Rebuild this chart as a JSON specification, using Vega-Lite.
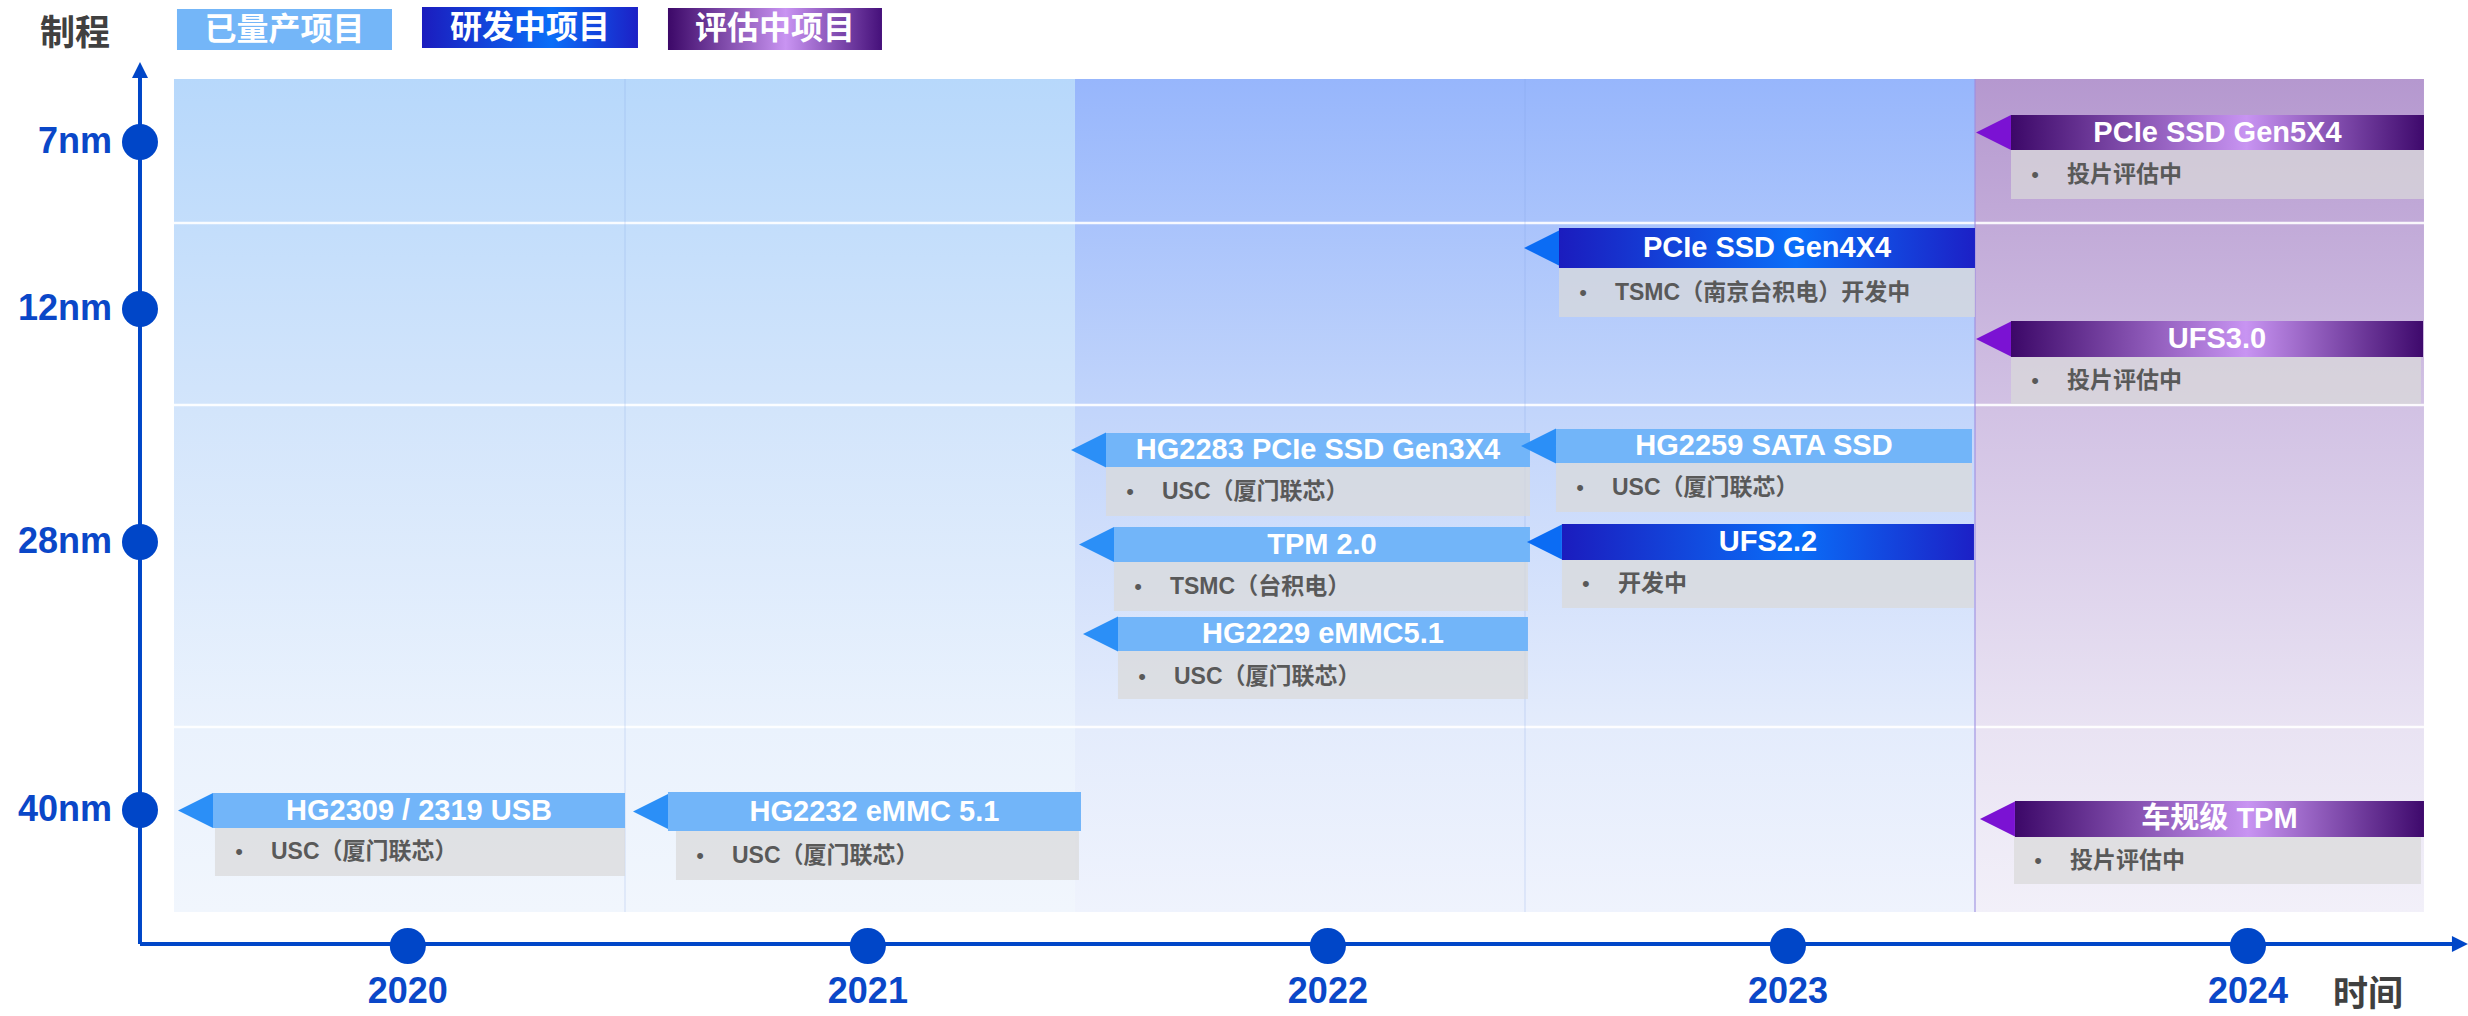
{
  "$schema": "https://vega.github.io/schema/vega-lite/v6.json",
  "width": 2468,
  "height": 1016,
  "autosize": {"type": "none"},
  "padding": 0,
  "background": "white",
  "config": {"view": {"stroke": null}},
  "datasets": {
    "bands": [
      {"group": "2020-2021", "x1": 2019.4917, "x2": 2021.4502},
      {"group": "2022-2023", "x1": 2021.4502, "x2": 2023.4066},
      {"group": "2024", "x1": 2023.4066, "x2": 2024.3826}
    ],
    "hlines": [{"y": 2.23}, {"y": 4.05}, {"y": 7.27}],
    "vlines": [{"x": 2020.4721, "kind": "thin"}, {"x": 2022.4284, "kind": "thin"}, {"x": 2023.4066, "kind": "edge"}],
    "projects": [
      {"name": "HG2309 / 2319 USB", "status": "已量产", "node": "40nm", "x1": 2019.5765, "x2": 2020.4721, "sx1": 2019.5808, "sx2": 2020.4721, "xm": 2020.0243, "y1": 7.93, "y2": 8.28, "y3": 8.76, "ym": 8.105, "ys": 8.52, "note": "USC（厦门联芯）"},
      {"name": "HG2232 eMMC 5.1", "status": "已量产", "node": "40nm", "x1": 2020.5655, "x2": 2021.4633, "sx1": 2020.5829, "sx2": 2021.4589, "xm": 2021.0144, "y1": 7.92, "y2": 8.31, "y3": 8.80, "ym": 8.115, "ys": 8.555, "note": "USC（厦门联芯）"},
      {"name": "HG2283 PCIe SSD Gen3X4", "status": "已量产", "node": "28nm", "x1": 2021.5176, "x2": 2022.4393, "sx1": 2021.5176, "sx2": 2022.4393, "xm": 2021.9785, "y1": 4.33, "y2": 4.67, "y3": 5.16, "ym": 4.50, "ys": 4.915, "note": "USC（厦门联芯）"},
      {"name": "TPM 2.0", "status": "已量产", "node": "28nm", "x1": 2021.5350, "x2": 2022.4393, "sx1": 2021.5350, "sx2": 2022.4349, "xm": 2021.9871, "y1": 5.27, "y2": 5.62, "y3": 6.11, "ym": 5.445, "ys": 5.865, "note": "TSMC（台积电）"},
      {"name": "HG2229 eMMC5.1", "status": "已量产", "node": "28nm", "x1": 2021.5437, "x2": 2022.4349, "sx1": 2021.5437, "sx2": 2022.4349, "xm": 2021.9893, "y1": 6.17, "y2": 6.51, "y3": 6.99, "ym": 6.34, "ys": 6.77, "note": "USC（厦门联芯）"},
      {"name": "HG2259 SATA SSD", "status": "已量产", "node": "28nm", "x1": 2022.4958, "x2": 2023.4001, "sx1": 2022.4958, "sx2": 2023.4001, "xm": 2022.9479, "y1": 4.29, "y2": 4.63, "y3": 5.12, "ym": 4.46, "ys": 4.875, "note": "USC（厦门联芯）"},
      {"name": "UFS2.2", "status": "研发中", "node": "28nm", "x1": 2022.5088, "x2": 2023.4044, "sx1": 2022.5088, "sx2": 2023.4044, "xm": 2022.9566, "y1": 5.24, "y2": 5.60, "y3": 6.08, "ym": 5.42, "ys": 5.84, "note": "开发中"},
      {"name": "PCIe SSD Gen4X4", "status": "研发中", "node": "12nm", "x1": 2022.5023, "x2": 2023.4066, "sx1": 2022.5023, "sx2": 2023.4066, "xm": 2022.9545, "y1": 2.28, "y2": 2.68, "y3": 3.17, "ym": 2.48, "ys": 2.925, "note": "TSMC（南京台积电）开发中"},
      {"name": "UFS3.0", "status": "评估中", "node": "12nm", "x1": 2023.4849, "x2": 2024.3805, "sx1": 2023.4849, "sx2": 2024.3761, "xm": 2023.9326, "y1": 3.21, "y2": 3.57, "y3": 4.04, "ym": 3.39, "ys": 3.805, "note": "投片评估中"},
      {"name": "PCIe SSD Gen5X4", "status": "评估中", "node": "7nm", "x1": 2023.4849, "x2": 2024.3826, "sx1": 2023.4849, "sx2": 2024.3826, "xm": 2023.9337, "y1": 1.15, "y2": 1.50, "y3": 1.99, "ym": 1.325, "ys": 1.745, "note": "投片评估中"},
      {"name": "车规级 TPM", "status": "评估中", "node": "40nm", "x1": 2023.4935, "x2": 2024.3826, "sx1": 2023.4914, "sx2": 2024.3761, "xm": 2023.9381, "y1": 8.01, "y2": 8.37, "y3": 8.84, "ym": 8.19, "ys": 8.605, "note": "投片评估中"}
    ],
    "axes": [
      {"axis": "制程", "x": 2019.4178, "x2": 2019.4178, "y": 9.44, "y2": 0.70, "lx": 2019.2765, "ly": 0.34},
      {"axis": "时间", "x": 2019.4178, "x2": 2024.4608, "y": 9.44, "y2": 9.44, "lx": 2024.2608, "ly": 9.95}
    ],
    "nodes": [
      {"node": "7nm", "y": 1.42},
      {"node": "12nm", "y": 3.09},
      {"node": "28nm", "y": 5.42},
      {"node": "40nm", "y": 8.10}
    ],
    "years": [{"year": 2020}, {"year": 2021}, {"year": 2022}, {"year": 2023}, {"year": 2024}],
    "legend": [
      {"status": "已量产", "label": "已量产项目", "x1": 2019.4982, "x2": 2019.9656, "y1": 0.09, "y2": 0.50, "xm": 2019.7319, "ym": 0.295},
      {"status": "研发中", "label": "研发中项目", "x1": 2020.0308, "x2": 2020.5003, "y1": 0.07, "y2": 0.48, "xm": 2020.2656, "ym": 0.275},
      {"status": "评估中", "label": "评估中项目", "x1": 2020.5655, "x2": 2021.0307, "y1": 0.08, "y2": 0.50, "xm": 2020.7981, "ym": 0.29}
    ]
  },
  "layer": [
    {
      "data": {"name": "bands"},
      "transform": [{"filter": "datum.group === '2020-2021'"}],
      "mark": {"type": "rect", "fill": {"gradient": "linear", "x1": 0, "y1": 0, "x2": 0, "y2": 1, "stops": [{"offset": 0, "color": "#b7d8fb"}, {"offset": 0.4, "color": "#d3e5fb"}, {"offset": 0.78, "color": "#eaf2fd"}, {"offset": 1, "color": "#f1f6fd"}]}},
      "encoding": {
        "x": {"field": "x1", "type": "quantitative", "scale": {"domain": [2019.1135, 2024.4783], "nice": false, "zero": false}, "axis": null},
        "x2": {"field": "x2"},
        "y": {"datum": 0.79, "type": "quantitative", "scale": {"domain": [0, 10.16], "reverse": true, "nice": false, "zero": false}, "axis": null},
        "y2": {"datum": 9.12}
      }
    },
    {
      "data": {"name": "bands"},
      "transform": [{"filter": "datum.group === '2022-2023'"}],
      "mark": {"type": "rect", "fill": {"gradient": "linear", "x1": 0, "y1": 0, "x2": 0, "y2": 1, "stops": [{"offset": 0, "color": "#97b6fc"}, {"offset": 0.4, "color": "#c2d5fb"}, {"offset": 0.78, "color": "#e4ecfc"}, {"offset": 1, "color": "#eff3fd"}]}},
      "encoding": {
        "x": {"field": "x1", "type": "quantitative", "scale": {"domain": [2019.1135, 2024.4783], "nice": false, "zero": false}, "axis": null},
        "x2": {"field": "x2"},
        "y": {"datum": 0.79, "type": "quantitative", "scale": {"domain": [0, 10.16], "reverse": true, "nice": false, "zero": false}, "axis": null},
        "y2": {"datum": 9.12}
      }
    },
    {
      "data": {"name": "bands"},
      "transform": [{"filter": "datum.group === '2024'"}],
      "mark": {"type": "rect", "fill": {"gradient": "linear", "x1": 0, "y1": 0, "x2": 0, "y2": 1, "stops": [{"offset": 0, "color": "#b598cf"}, {"offset": 0.4, "color": "#d2c2e4"}, {"offset": 0.78, "color": "#e9e3f3"}, {"offset": 1, "color": "#f2f0f9"}]}},
      "encoding": {
        "x": {"field": "x1", "type": "quantitative", "scale": {"domain": [2019.1135, 2024.4783], "nice": false, "zero": false}, "axis": null},
        "x2": {"field": "x2"},
        "y": {"datum": 0.79, "type": "quantitative", "scale": {"domain": [0, 10.16], "reverse": true, "nice": false, "zero": false}, "axis": null},
        "y2": {"datum": 9.12}
      }
    },
    {
      "data": {"name": "hlines"},
      "mark": {"type": "rule", "color": "#ffffff", "strokeWidth": 2.5, "opacity": 0.9},
      "encoding": {
        "x": {"datum": 2019.4917, "type": "quantitative", "scale": {"domain": [2019.1135, 2024.4783], "nice": false, "zero": false}, "axis": null},
        "x2": {"datum": 2024.3826},
        "y": {"field": "y", "type": "quantitative", "scale": {"domain": [0, 10.16], "reverse": true, "nice": false, "zero": false}, "axis": null}
      }
    },
    {
      "data": {"name": "vlines"},
      "transform": [{"filter": "datum.kind === 'thin'"}],
      "mark": {"type": "rule", "color": "#7f9fe0", "strokeWidth": 1, "opacity": 0.3},
      "encoding": {
        "x": {"field": "x", "type": "quantitative", "scale": {"domain": [2019.1135, 2024.4783], "nice": false, "zero": false}, "axis": null},
        "y": {"datum": 0.79, "type": "quantitative", "scale": {"domain": [0, 10.16], "reverse": true, "nice": false, "zero": false}, "axis": null},
        "y2": {"datum": 9.12}
      }
    },
    {
      "data": {"name": "vlines"},
      "transform": [{"filter": "datum.kind === 'edge'"}],
      "mark": {"type": "rule", "color": "#9a8ce0", "strokeWidth": 2, "opacity": 0.55},
      "encoding": {
        "x": {"field": "x", "type": "quantitative", "scale": {"domain": [2019.1135, 2024.4783], "nice": false, "zero": false}, "axis": null},
        "y": {"datum": 0.79, "type": "quantitative", "scale": {"domain": [0, 10.16], "reverse": true, "nice": false, "zero": false}, "axis": null},
        "y2": {"datum": 9.12}
      }
    },
    {
      "data": {"name": "projects"},
      "mark": {"type": "rect", "fill": "#d9d9d9", "opacity": 0.72},
      "encoding": {
        "x": {"field": "sx1", "type": "quantitative", "scale": {"domain": [2019.1135, 2024.4783], "nice": false, "zero": false}, "axis": null},
        "x2": {"field": "sx2"},
        "y": {"field": "y2", "type": "quantitative", "scale": {"domain": [0, 10.16], "reverse": true, "nice": false, "zero": false}, "axis": null},
        "y2": {"field": "y3"}
      }
    },
    {
      "data": {"name": "projects"},
      "transform": [{"filter": "datum.status === '已量产'"}],
      "mark": {"type": "rect", "fill": "#72b5f9"},
      "encoding": {
        "x": {"field": "x1", "type": "quantitative", "scale": {"domain": [2019.1135, 2024.4783], "nice": false, "zero": false}, "axis": null},
        "x2": {"field": "x2"},
        "y": {"field": "y1", "type": "quantitative", "scale": {"domain": [0, 10.16], "reverse": true, "nice": false, "zero": false}, "axis": null},
        "y2": {"field": "y2"}
      }
    },
    {
      "data": {"name": "projects"},
      "transform": [{"filter": "datum.status === '研发中'"}],
      "mark": {"type": "rect", "fill": {"gradient": "linear", "x1": 0, "y1": 0, "x2": 1, "y2": 0, "stops": [{"offset": 0, "color": "#1b1cbe"}, {"offset": 0.57, "color": "#0a6ef8"}, {"offset": 1, "color": "#1c20c6"}]}},
      "encoding": {
        "x": {"field": "x1", "type": "quantitative", "scale": {"domain": [2019.1135, 2024.4783], "nice": false, "zero": false}, "axis": null},
        "x2": {"field": "x2"},
        "y": {"field": "y1", "type": "quantitative", "scale": {"domain": [0, 10.16], "reverse": true, "nice": false, "zero": false}, "axis": null},
        "y2": {"field": "y2"}
      }
    },
    {
      "data": {"name": "projects"},
      "transform": [{"filter": "datum.status === '评估中'"}],
      "mark": {"type": "rect", "fill": {"gradient": "linear", "x1": 0, "y1": 0, "x2": 1, "y2": 0, "stops": [{"offset": 0, "color": "#3c0868"}, {"offset": 0.57, "color": "#c894f2"}, {"offset": 1, "color": "#3e096c"}]}},
      "encoding": {
        "x": {"field": "x1", "type": "quantitative", "scale": {"domain": [2019.1135, 2024.4783], "nice": false, "zero": false}, "axis": null},
        "x2": {"field": "x2"},
        "y": {"field": "y1", "type": "quantitative", "scale": {"domain": [0, 10.16], "reverse": true, "nice": false, "zero": false}, "axis": null},
        "y2": {"field": "y2"}
      }
    },
    {
      "data": {"name": "projects"},
      "mark": {"type": "point", "filled": true, "opacity": 1, "strokeWidth": 0, "shape": "M -1 0 L 1 -1 L 1 1 Z", "size": 1225, "xOffset": -17.5},
      "encoding": {
        "x": {"field": "x1", "type": "quantitative", "scale": {"domain": [2019.1135, 2024.4783], "nice": false, "zero": false}, "axis": null},
        "y": {"field": "ym", "type": "quantitative", "scale": {"domain": [0, 10.16], "reverse": true, "nice": false, "zero": false}, "axis": null},
        "color": {"field": "status", "type": "nominal", "scale": {"domain": ["已量产", "研发中", "评估中"], "range": ["#2b8ff7", "#0b6cf4", "#7b12d3"]}, "legend": null}
      }
    },
    {
      "data": {"name": "projects"},
      "mark": {"type": "text", "color": "#ffffff", "font": "Liberation Sans, Noto Sans CJK SC", "fontWeight": "bold", "fontSize": 29, "align": "center", "baseline": "middle"},
      "encoding": {
        "x": {"field": "xm", "type": "quantitative", "scale": {"domain": [2019.1135, 2024.4783], "nice": false, "zero": false}, "axis": null},
        "y": {"field": "ym", "type": "quantitative", "scale": {"domain": [0, 10.16], "reverse": true, "nice": false, "zero": false}, "axis": null},
        "text": {"field": "name"}
      }
    },
    {
      "data": {"name": "projects"},
      "mark": {"type": "text", "color": "#595959", "font": "Liberation Sans", "fontSize": 22, "align": "center", "baseline": "middle", "xOffset": 24, "text": "•"},
      "encoding": {
        "x": {"field": "sx1", "type": "quantitative", "scale": {"domain": [2019.1135, 2024.4783], "nice": false, "zero": false}, "axis": null},
        "y": {"field": "ys", "type": "quantitative", "scale": {"domain": [0, 10.16], "reverse": true, "nice": false, "zero": false}, "axis": null}
      }
    },
    {
      "data": {"name": "projects"},
      "mark": {"type": "text", "color": "#595959", "font": "Liberation Sans, Noto Sans CJK SC", "fontWeight": "bold", "fontSize": 23, "align": "left", "baseline": "middle", "xOffset": 56},
      "encoding": {
        "x": {"field": "sx1", "type": "quantitative", "scale": {"domain": [2019.1135, 2024.4783], "nice": false, "zero": false}, "axis": null},
        "y": {"field": "ys", "type": "quantitative", "scale": {"domain": [0, 10.16], "reverse": true, "nice": false, "zero": false}, "axis": null},
        "text": {"field": "note"}
      }
    },
    {
      "data": {"name": "axes"},
      "mark": {"type": "rule", "color": "#0046c8", "strokeWidth": 4},
      "encoding": {
        "x": {"field": "x", "type": "quantitative", "scale": {"domain": [2019.1135, 2024.4783], "nice": false, "zero": false}, "axis": null},
        "x2": {"field": "x2"},
        "y": {"field": "y", "type": "quantitative", "scale": {"domain": [0, 10.16], "reverse": true, "nice": false, "zero": false}, "axis": null},
        "y2": {"field": "y2"}
      }
    },
    {
      "data": {"name": "axes"},
      "mark": {"type": "point", "filled": true, "opacity": 1, "strokeWidth": 0, "size": 256, "color": "#0046c8"},
      "encoding": {
        "x": {"field": "x2", "type": "quantitative", "scale": {"domain": [2019.1135, 2024.4783], "nice": false, "zero": false}, "axis": null},
        "y": {"field": "y2", "type": "quantitative", "scale": {"domain": [0, 10.16], "reverse": true, "nice": false, "zero": false}, "axis": null},
        "shape": {"field": "axis", "type": "nominal", "scale": {"domain": ["制程", "时间"], "range": ["M 0 -1 L 1 1 L -1 1 Z", "M 1 0 L -1 -1 L -1 1 Z"]}, "legend": null}
      }
    },
    {
      "data": {"name": "axes"},
      "mark": {"type": "text", "color": "#404040", "font": "Noto Sans CJK SC", "fontWeight": "bold", "fontSize": 35, "align": "center", "baseline": "middle"},
      "encoding": {
        "x": {"field": "lx", "type": "quantitative", "scale": {"domain": [2019.1135, 2024.4783], "nice": false, "zero": false}, "axis": null},
        "y": {"field": "ly", "type": "quantitative", "scale": {"domain": [0, 10.16], "reverse": true, "nice": false, "zero": false}, "axis": null},
        "text": {"field": "axis"}
      }
    },
    {
      "data": {"name": "nodes"},
      "mark": {"type": "point", "shape": "circle", "filled": true, "opacity": 1, "strokeWidth": 0, "size": 1296, "color": "#0046c8"},
      "encoding": {
        "x": {"datum": 2019.4178, "type": "quantitative", "scale": {"domain": [2019.1135, 2024.4783], "nice": false, "zero": false}, "axis": null},
        "y": {"field": "y", "type": "quantitative", "scale": {"domain": [0, 10.16], "reverse": true, "nice": false, "zero": false}, "axis": null}
      }
    },
    {
      "data": {"name": "nodes"},
      "mark": {"type": "text", "color": "#0a47c8", "font": "Liberation Sans", "fontWeight": "bold", "fontSize": 36, "align": "right", "baseline": "middle", "xOffset": -28},
      "encoding": {
        "x": {"datum": 2019.4178, "type": "quantitative", "scale": {"domain": [2019.1135, 2024.4783], "nice": false, "zero": false}, "axis": null},
        "y": {"field": "y", "type": "quantitative", "scale": {"domain": [0, 10.16], "reverse": true, "nice": false, "zero": false}, "axis": null},
        "text": {"field": "node"}
      }
    },
    {
      "data": {"name": "years"},
      "mark": {"type": "point", "shape": "circle", "filled": true, "opacity": 1, "strokeWidth": 0, "size": 1296, "color": "#0046c8"},
      "encoding": {
        "x": {"field": "year", "type": "quantitative", "scale": {"domain": [2019.1135, 2024.4783], "nice": false, "zero": false}, "axis": null},
        "y": {"datum": 9.46, "type": "quantitative", "scale": {"domain": [0, 10.16], "reverse": true, "nice": false, "zero": false}, "axis": null}
      }
    },
    {
      "data": {"name": "years"},
      "mark": {"type": "text", "color": "#0a47c8", "font": "Liberation Sans", "fontWeight": "bold", "fontSize": 36, "align": "center", "baseline": "middle"},
      "encoding": {
        "x": {"field": "year", "type": "quantitative", "scale": {"domain": [2019.1135, 2024.4783], "nice": false, "zero": false}, "axis": null},
        "y": {"datum": 9.92, "type": "quantitative", "scale": {"domain": [0, 10.16], "reverse": true, "nice": false, "zero": false}, "axis": null},
        "text": {"field": "year", "type": "nominal"}
      }
    },
    {
      "data": {"name": "legend"},
      "transform": [{"filter": "datum.status === '已量产'"}],
      "mark": {"type": "rect", "fill": "#74b6f8"},
      "encoding": {
        "x": {"field": "x1", "type": "quantitative", "scale": {"domain": [2019.1135, 2024.4783], "nice": false, "zero": false}, "axis": null},
        "x2": {"field": "x2"},
        "y": {"field": "y1", "type": "quantitative", "scale": {"domain": [0, 10.16], "reverse": true, "nice": false, "zero": false}, "axis": null},
        "y2": {"field": "y2"}
      }
    },
    {
      "data": {"name": "legend"},
      "transform": [{"filter": "datum.status === '研发中'"}],
      "mark": {"type": "rect", "fill": {"gradient": "linear", "x1": 0, "y1": 0, "x2": 1, "y2": 0, "stops": [{"offset": 0, "color": "#1b1cbe"}, {"offset": 0.6, "color": "#0a6ef8"}, {"offset": 1, "color": "#1c20c6"}]}},
      "encoding": {
        "x": {"field": "x1", "type": "quantitative", "scale": {"domain": [2019.1135, 2024.4783], "nice": false, "zero": false}, "axis": null},
        "x2": {"field": "x2"},
        "y": {"field": "y1", "type": "quantitative", "scale": {"domain": [0, 10.16], "reverse": true, "nice": false, "zero": false}, "axis": null},
        "y2": {"field": "y2"}
      }
    },
    {
      "data": {"name": "legend"},
      "transform": [{"filter": "datum.status === '评估中'"}],
      "mark": {"type": "rect", "fill": {"gradient": "linear", "x1": 0, "y1": 0, "x2": 1, "y2": 0, "stops": [{"offset": 0, "color": "#3c0868"}, {"offset": 0.55, "color": "#c994f2"}, {"offset": 1, "color": "#45107a"}]}},
      "encoding": {
        "x": {"field": "x1", "type": "quantitative", "scale": {"domain": [2019.1135, 2024.4783], "nice": false, "zero": false}, "axis": null},
        "x2": {"field": "x2"},
        "y": {"field": "y1", "type": "quantitative", "scale": {"domain": [0, 10.16], "reverse": true, "nice": false, "zero": false}, "axis": null},
        "y2": {"field": "y2"}
      }
    },
    {
      "data": {"name": "legend"},
      "mark": {"type": "text", "color": "#ffffff", "font": "Noto Sans CJK SC", "fontWeight": "bold", "fontSize": 32, "align": "center", "baseline": "middle"},
      "encoding": {
        "x": {"field": "xm", "type": "quantitative", "scale": {"domain": [2019.1135, 2024.4783], "nice": false, "zero": false}, "axis": null},
        "y": {"field": "ym", "type": "quantitative", "scale": {"domain": [0, 10.16], "reverse": true, "nice": false, "zero": false}, "axis": null},
        "text": {"field": "label"}
      }
    }
  ]
}
